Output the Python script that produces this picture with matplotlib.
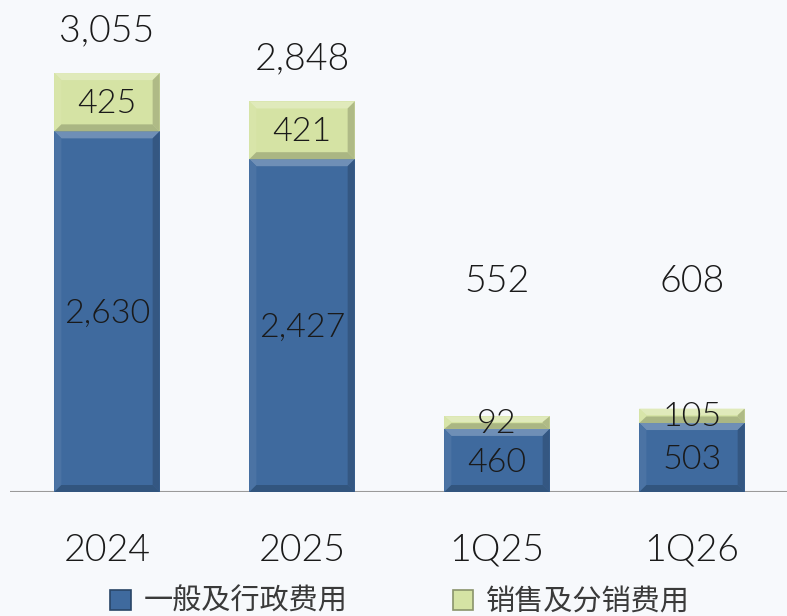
import matplotlib
matplotlib.use("Agg")
import matplotlib.pyplot as plt
from matplotlib.patches import Polygon, Rectangle
import matplotlib.colors as mcolors
import numpy as np

plt.rcParams['font.family'] = ['Noto Sans CJK SC', 'DejaVu Sans']

categories = ["2024", "2025", "1Q25", "1Q26"]
ga_values = [2630, 2427, 460, 503]      # 一般及行政费用
sd_values = [425, 421, 92, 105]         # 销售及分销费用
totals = [3055, 2848, 552, 608]
ga_labels = ["2,630", "2,427", "460", "503"]
sd_labels = ["425", "421", "92", "105"]
total_labels = ["3,055", "2,848", "552", "608"]
series_names = ["一般及行政费用", "销售及分销费用"]

BLUE = "#3F6A9E"
GREEN = "#D5E3A4"
BG = "#F7F9FC"
NUMFONT = dict(family=['Lato', 'DejaVu Sans'], fontweight=300)

fig = plt.figure(figsize=(7.87, 6.16), dpi=100, facecolor=BG)
ax = fig.add_axes([9.5 / 787, 124 / 616, 780 / 787, 492 / 616])
ax.set_facecolor(BG)
ax.set_xlim(-0.5, 3.5)
ax.set_ylim(0, 3588)

width = 0.54
x = np.arange(len(categories))


def shade(c, f):
    r, g, b = mcolors.to_rgb(c)
    if f >= 0:
        return (r + (1 - r) * f, g + (1 - g) * f, b + (1 - b) * f)
    return (r * (1 + f), g * (1 + f), b * (1 + f))


def bevel(ax, xc, y0, h, color):
    x0, x1 = xc - width / 2, xc + width / 2
    y1 = y0 + h
    bx = 7 / 195.0
    by = min(7 / 0.1371, h / 2.2)
    ax.add_patch(Rectangle((x0, y0), x1 - x0, h, facecolor=color, edgecolor='none', zorder=2))
    top = [(x0, y1), (x1, y1), (x1 - bx, y1 - by), (x0 + bx, y1 - by)]
    bot = [(x0, y0), (x1, y0), (x1 - bx, y0 + by), (x0 + bx, y0 + by)]
    left = [(x0, y0), (x0, y1), (x0 + bx, y1 - by), (x0 + bx, y0 + by)]
    right = [(x1, y0), (x1, y1), (x1 - bx, y1 - by), (x1 - bx, y0 + by)]
    ax.add_patch(Polygon(top, closed=True, facecolor=shade(color, 0.25), edgecolor='none', zorder=3))
    ax.add_patch(Polygon(left, closed=True, facecolor=shade(color, 0.06), edgecolor='none', zorder=3))
    ax.add_patch(Polygon(right, closed=True, facecolor=shade(color, -0.18), edgecolor='none', zorder=3))
    ax.add_patch(Polygon(bot, closed=True, facecolor=shade(color, -0.2), edgecolor='none', zorder=3))


for i in range(len(categories)):
    bevel(ax, x[i], 0, ga_values[i], BLUE)
    bevel(ax, x[i], ga_values[i], sd_values[i], GREEN)

for i in range(len(categories)):
    ax.text(x[i], ga_values[i] / 2 - 15, ga_labels[i], ha='center', va='center',
            fontsize=24.5, color='#1a1a1a', zorder=5, **NUMFONT)
    ax.text(x[i], ga_values[i] + sd_values[i] / 2 - 10, sd_labels[i], ha='center', va='center',
            fontsize=24.5, color='#1a1a1a', zorder=5, **NUMFONT)
    ty = max(totals[i], 1230) + 305
    ax.text(x[i], ty, total_labels[i], ha='center', va='center',
            fontsize=27, color='#1a1a1a', zorder=5, **NUMFONT)

for s in ax.spines.values():
    s.set_visible(False)
ax.axhline(0, color='#9a9a9a', lw=1.5, zorder=1)
ax.set_yticks([])
ax.set_xticks(x)
ax.set_xticklabels(categories, fontsize=27, color='#1a1a1a', **NUMFONT)
ax.tick_params(axis='x', length=0, pad=30)

# legend
handles = [Rectangle((0, 0), 1, 1, facecolor=BLUE, edgecolor=shade(BLUE, -0.35), lw=1.2),
           Rectangle((0, 0), 1, 1, facecolor=GREEN, edgecolor=shade(GREEN, -0.35), lw=1.2)]
leg = fig.legend(handles, series_names, loc='center', bbox_to_anchor=(400 / 787, 1 - 602 / 616),
                 ncol=2, frameon=False, handlelength=0.7, handleheight=0.7, handletextpad=0.45,
                 columnspacing=3.6, prop={'size': 21})
for t in leg.get_texts():
    t.set_color('#3a3a3a')

fig.savefig("out.png", dpi=100, facecolor=BG)
